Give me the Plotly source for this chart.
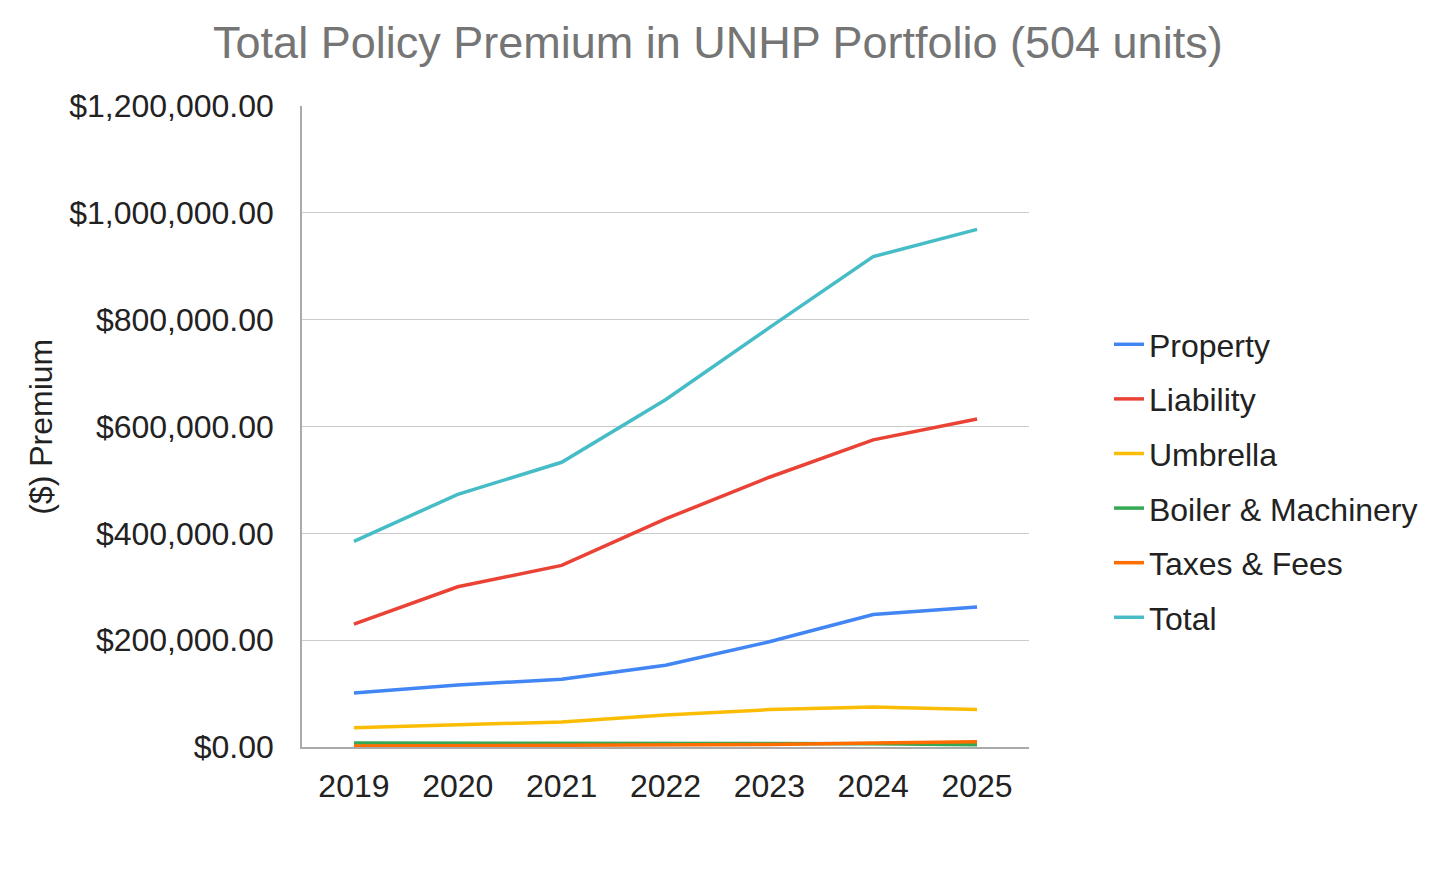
import plotly.graph_objects as go

# Premium by coverage line, per policy year
years = ["2019", "2020", "2021", "2022", "2023", "2024", "2025"]
property_prem = [101000, 116000, 127000, 153000, 197000, 248000, 262000]
liability_prem = [230000, 300000, 340000, 427000, 505000, 575000, 614000]
umbrella_prem = [36000, 41500, 47000, 60000, 70000, 75000, 70000]
boiler_prem = [7500, 7500, 7500, 7500, 7000, 6000, 4000]
taxes_prem = [2000, 2500, 3000, 3500, 4500, 7500, 10000]
total_prem = [385000, 473000, 533000, 650000, 785000, 918000, 969000]

series = [
    ("Property", property_prem, "#4285F4"),
    ("Liability", liability_prem, "#EA4335"),
    ("Umbrella", umbrella_prem, "#FBBC04"),
    ("Boiler & Machinery", boiler_prem, "#34A853"),
    ("Taxes & Fees", taxes_prem, "#FF6D01"),
    ("Total", total_prem, "#46BDC6"),
]

fig = go.Figure()
for name, vals, color in series:
    fig.add_trace(go.Scatter(
        x=years, y=vals, name=name, mode="lines",
        line=dict(color=color, width=3.5),
        legendgroup=name,
    ))

fig.update_layout(
    width=1437, height=879,
    margin=dict(l=294, r=416, t=98, b=140),
    paper_bgcolor="white", plot_bgcolor="white",
    font=dict(family="Liberation Sans, Arial, sans-serif", size=32, color="#222222"),
    title=dict(
        text="Total Policy Premium in UNHP Portfolio (504 units)",
        x=0.494, xanchor="center", y=0.961, yanchor="middle",
        font=dict(size=45, color="#757575"),
    ),
    legend=dict(
        x=1.11, xanchor="left", y=0.415, yanchor="middle",
        font=dict(size=32, color="#222222"),
        tracegroupgap=10,
        bgcolor="rgba(0,0,0,0)",
    ),
    showlegend=True,
)

fig.update_xaxes(
    type="category", range=[-0.5, 6.5],
    showgrid=False, showline=True, linecolor="#aaaaaa", linewidth=1.5,
    ticks="", ticklabelstandoff=10,
)
fig.update_yaxes(
    range=[0, 1200000], dtick=200000, tickformat="$,.2f",
    showgrid=True, gridcolor="#cccccc", gridwidth=1,
    showline=True, linecolor="#aaaaaa", linewidth=1.5,
    zeroline=False, ticks="", ticklabelstandoff=20,
)

fig.add_annotation(
    text="($) Premium", textangle=-90,
    x=-0.36, xref="paper", xanchor="center",
    y=0.5, yref="paper", yanchor="middle",
    showarrow=False, font=dict(size=32, color="#222222"),
)

fig.write_html("out.html")
